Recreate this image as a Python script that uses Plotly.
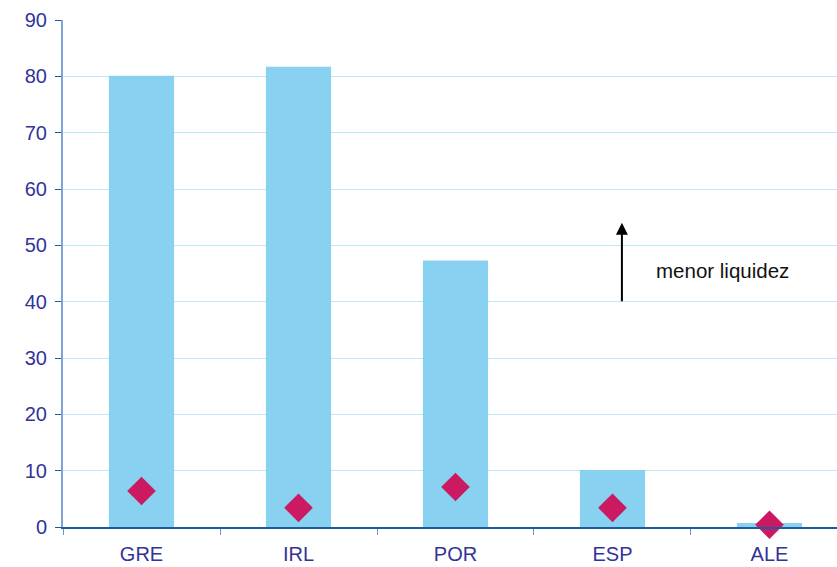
import plotly.graph_objects as go

categories = ["GRE", "IRL", "POR", "ESP", "ALE"]
bar_values = [80.1, 81.7, 47.3, 10.1, 0.7]
marker_values = [6.4, 3.4, 7.1, 3.4, 0.4]
y_ticks = [0, 10, 20, 30, 40, 50, 60, 70, 80, 90]

fig = go.Figure()
fig.add_trace(go.Bar(x=categories, y=bar_values, marker_color="#88d1f1",
                     marker_line_width=0, width=0.415, showlegend=False))
fig.add_trace(go.Scatter(x=categories, y=marker_values, mode="markers",
                         marker=dict(symbol="diamond", size=22, color="#cb1a62"),
                         cliponaxis=False, showlegend=False))

fig.add_annotation(x=3.06, y=54.0, ax=3.06, ay=39.8, xref="x", yref="y",
                   axref="x", ayref="y", text="", showarrow=True,
                   arrowhead=2, arrowsize=1.2, arrowwidth=2, arrowcolor="#000000")
fig.add_annotation(x=3.70, y=45.6, xref="x", yref="y", text="menor liquidez",
                   showarrow=False, font=dict(family="Liberation Sans, Arial", size=20.5, color="#111111"))

fig.update_layout(
    width=837, height=567,
    margin=dict(l=63, r=0, t=20, b=40),
    plot_bgcolor="white", paper_bgcolor="white",
    font=dict(family="Liberation Sans, Arial", size=20, color="#333399"),
)
fig.update_xaxes(
    type="category", range=[-0.5, 4.43], tickson="boundaries", ticks="outside", ticklen=6,
    tickcolor="#6f93c8", showline=True, linecolor="#1f5a9c", linewidth=2,
    showgrid=False, tickfont=dict(size=20, color="#333399"), ticklabelstandoff=8,
)
fig.update_yaxes(
    range=[0, 90], tickvals=y_ticks, ticks="outside", ticklen=6,
    tickcolor="#1f5a9c", showline=True, linecolor="#7fa3d4", linewidth=2,
    showgrid=True, gridcolor="#bfe8f7", gridwidth=1, zeroline=False,
    tickfont=dict(size=20, color="#333399"), ticklabelstandoff=4,
)

fig.write_html("out.html")
